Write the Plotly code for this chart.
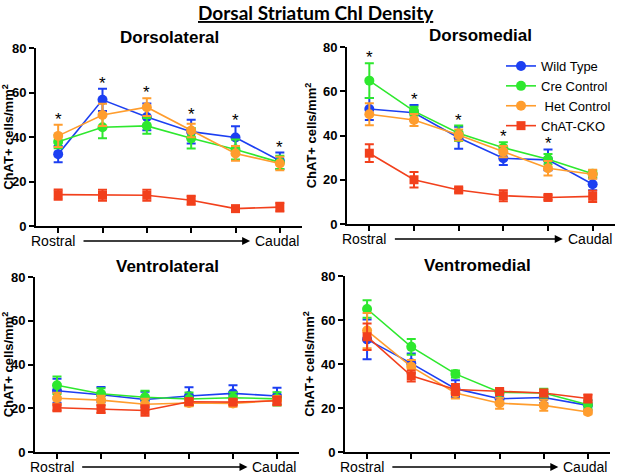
import plotly.graph_objects as go

W, H = 617, 474

positions = [1, 2, 3, 4, 5, 6]
series_names = ["Wild Type", "Cre Control", " Het Control", "ChAT-CKO"]
series_colors = ["#1c3ff2", "#2ee82e", "#ff9d2e", "#f2401c"]
series_symbols = ["circle", "circle", "circle", "square"]

panel_titles = ["Dorsolateral", "Dorsomedial", "Ventrolateral", "Ventromedial"]

# Dorsolateral
dl_wt = [32.3, 56.7, 49.0, 42.4, 39.8, 29.3]
dl_wt_err = [3.7, 5.0, 6.0, 5.3, 5.0, 3.7]
dl_cre = [37.9, 44.4, 45.0, 39.4, 34.4, 28.6]
dl_cre_err = [3.0, 5.0, 3.5, 4.6, 4.5, 3.0]
dl_het = [40.5, 49.9, 53.4, 42.9, 32.6, 28.1]
dl_het_err = [5.0, 5.0, 4.0, 3.0, 3.3, 3.0]
dl_cko = [14.1, 13.8, 13.8, 11.6, 7.8, 8.5]
dl_cko_err = [2.3, 2.5, 2.5, 2.0, 1.2, 2.0]
dl_stars = [1, 2, 3, 4, 5, 6]

# Dorsomedial
dm_wt = [52.0, 50.3, 39.0, 29.7, 29.0, 18.0]
dm_wt_err = [5.0, 3.5, 5.0, 3.0, 4.7, 2.7]
dm_cre = [64.8, 51.0, 41.0, 34.5, 29.3, 22.7]
dm_cre_err = [7.8, 2.0, 3.5, 2.5, 2.3, 1.5]
dm_het = [49.6, 47.0, 40.2, 32.7, 25.2, 22.5]
dm_het_err = [5.0, 2.7, 2.5, 2.5, 3.3, 2.0]
dm_cko = [32.0, 20.0, 15.4, 12.8, 12.0, 12.5]
dm_cko_err = [4.0, 3.5, 1.0, 2.5, 1.0, 2.5]
dm_stars = [1, 2, 3, 4, 5]

# Ventrolateral
vl_wt = [28.0, 26.2, 24.0, 25.6, 26.8, 25.6]
vl_wt_err = [5.5, 3.5, 3.5, 4.0, 3.7, 3.8]
vl_cre = [30.5, 26.6, 25.0, 24.2, 24.8, 24.3]
vl_cre_err = [4.0, 2.5, 3.0, 3.0, 2.5, 3.0]
vl_het = [24.6, 23.7, 21.8, 22.4, 22.2, 23.6]
vl_het_err = [2.5, 2.0, 2.5, 1.5, 1.5, 2.0]
vl_cko = [20.2, 19.6, 19.0, 23.0, 22.8, 23.4]
vl_cko_err = [1.2, 1.8, 2.4, 1.5, 1.2, 2.0]
vl_stars = []

# Ventromedial
vm_wt = [51.2, 40.3, 28.8, 24.2, 24.8, 21.2]
vm_wt_err = [9.0, 4.5, 3.8, 2.5, 2.5, 2.2]
vm_cre = [65.0, 47.8, 35.5, 27.2, 26.8, 21.5]
vm_cre_err = [4.0, 3.6, 1.6, 1.0, 2.0, 2.0]
vm_het = [55.2, 38.8, 26.8, 22.2, 21.2, 18.2]
vm_het_err = [8.0, 3.0, 2.5, 2.5, 2.5, 1.0]
vm_cko = [52.4, 34.6, 28.4, 27.5, 26.8, 24.3]
vm_cko_err = [6.0, 2.5, 2.5, 1.5, 1.5, 1.8]
vm_stars = []

panels = [
    ([dl_wt, dl_cre, dl_het, dl_cko], [dl_wt_err, dl_cre_err, dl_het_err, dl_cko_err], dl_stars),
    ([dm_wt, dm_cre, dm_het, dm_cko], [dm_wt_err, dm_cre_err, dm_het_err, dm_cko_err], dm_stars),
    ([vl_wt, vl_cre, vl_het, vl_cko], [vl_wt_err, vl_cre_err, vl_het_err, vl_cko_err], vl_stars),
    ([vm_wt, vm_cre, vm_het, vm_cko], [vm_wt_err, vm_cre_err, vm_het_err, vm_cko_err], vm_stars),
]

y_ticks = [0, 20, 40, 60, 80]

# panel pixel boxes: (left, right, top, bottom)
boxes = [(36, 302, 48, 226), (347, 615, 47, 224), (35, 299, 277, 452), (345, 610, 276, 452)]

fig = go.Figure()
layout = dict(
    width=W, height=H, margin=dict(l=0, r=0, t=0, b=0, autoexpand=False),
    paper_bgcolor="white", plot_bgcolor="white",
    font=dict(family="Liberation Sans, Arial", color="black"),
    showlegend=True,
)
annotations = []

for p, ((vals, errs, stars), (l, r, t, b)) in enumerate(zip(panels, boxes)):
    xa = "x" if p == 0 else f"x{p+1}"
    ya = "y" if p == 0 else f"y{p+1}"
    xk = "xaxis" if p == 0 else f"xaxis{p+1}"
    yk = "yaxis" if p == 0 else f"yaxis{p+1}"
    for s in range(4):
        fig.add_trace(go.Scatter(
            x=positions, y=vals[s], xaxis=xa, yaxis=ya,
            mode="lines+markers", name=series_names[s],
            legendgroup=series_names[s], showlegend=(p == 1),
            line=dict(color=series_colors[s], width=1.6),
            marker=dict(color=series_colors[s], size=10 if s < 3 else 9,
                        symbol=series_symbols[s]),
            error_y=dict(type="data", array=errs[s], visible=True,
                         color=series_colors[s], thickness=2, width=4.5),
            cliponaxis=False,
        ))
    layout[xk] = dict(
        domain=[l / W, r / W], range=[0.5, 6.5], anchor=ya,
        showline=True, linecolor="black", linewidth=2,
        tickmode="array", tickvals=positions, showticklabels=False,
        ticks="outside", ticklen=5, tickwidth=2, tickcolor="black",
        showgrid=False, zeroline=False, fixedrange=True, automargin=False,
    )
    layout[yk] = dict(
        domain=[1 - b / H, 1 - t / H], range=[0, 80], anchor=xa,
        showline=True, linecolor="black", linewidth=2,
        tickmode="array", tickvals=y_ticks,
        ticks="outside", ticklen=5, tickwidth=2, tickcolor="black",
        tickfont=dict(size=13, family="Liberation Sans, Arial", weight="bold"),
        showgrid=False, zeroline=False, fixedrange=True, automargin=False,
        title=dict(text="ChAT+ cells/mm<sup>2</sup>", standoff=3,
                   font=dict(size=13, family="Liberation Sans, Arial", weight="bold")),
    )
    # panel title
    annotations.append(dict(
        text=f"<b>{panel_titles[p]}</b>", xref="paper", yref="paper",
        x=(l + r) / 2 / W, y=1 - (t - 11) / H, xanchor="center", yanchor="middle",
        showarrow=False, font=dict(size=17, family="Liberation Sans, Arial"),
    ))
    # Rostral / Caudal labels and arrow
    ylab = 1 - (b + 15) / H
    annotations.append(dict(text="Rostral", xref=f"{xa} domain", yref="paper",
                            x=-0.025, y=ylab, xanchor="left", yanchor="middle",
                            showarrow=False, font=dict(size=14)))
    annotations.append(dict(text="Caudal", xref=f"{xa} domain", yref="paper",
                            x=0.995, y=ylab, xanchor="right", yanchor="middle",
                            showarrow=False, font=dict(size=14)))
    annotations.append(dict(text="", xref=f"{xa} domain", yref="paper",
                            axref=f"{xa} domain", ayref="pixel",
                            x=0.805, y=ylab, ax=0.173, ay=0,
                            showarrow=True, arrowhead=2, arrowsize=1.0,
                            arrowwidth=1.6, arrowcolor="black"))
    # significance asterisks
    for xi in stars:
        i = positions.index(xi)
        top = max(vals[s][i] + errs[s][i] for s in range(4))
        annotations.append(dict(text="*", xref=xa, yref=ya, x=xi, y=top,
                                xanchor="center", yanchor="bottom", yshift=-6,
                                showarrow=False, font=dict(size=17)))

annotations.append(dict(
    text="<b><u>Dorsal Striatum ChI Density</u></b>", xref="paper", yref="paper",
    x=316 / W, y=1 - 12 / H, xanchor="center", yanchor="middle", showarrow=False,
    font=dict(size=19, family="Lato, Open Sans"),
))

layout["annotations"] = annotations
layout["legend"] = dict(
    x=501 / W, y=1 - 51 / H, xanchor="left", yanchor="top",
    bgcolor="rgba(0,0,0,0)", font=dict(size=13, family="Liberation Sans, Arial"),
    tracegroupgap=0, itemwidth=30,
)
fig.update_layout(**layout)
fig.write_html("out.html", config={"displayModeBar": False},
               post_script="document.body.style.margin='0';document.body.style.overflow='hidden';")
